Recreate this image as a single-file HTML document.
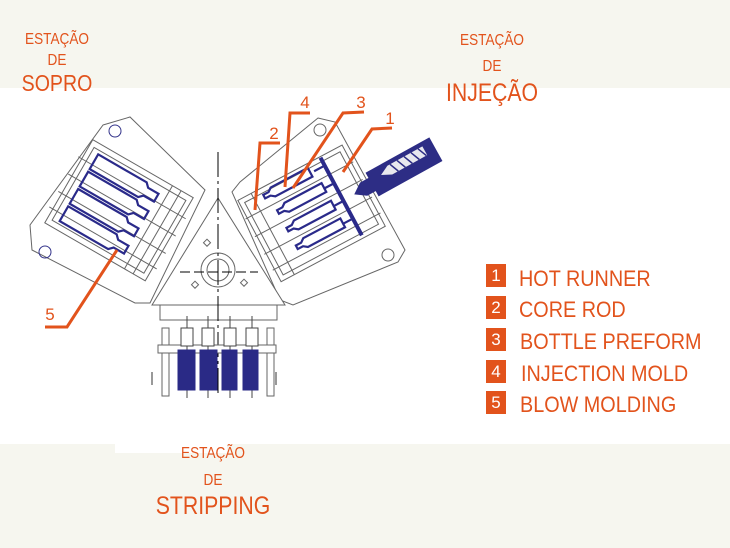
<!DOCTYPE html>
<html><head><meta charset="utf-8"><style>
html,body{margin:0;padding:0}
body{width:730px;height:548px;overflow:hidden;background:#f6f6ef;position:relative;font-family:"Liberation Sans",sans-serif}
.t{position:absolute;color:#e2531c;font-family:"Liberation Sans Narrow","Liberation Sans",sans-serif;text-align:center;transform:scaleX(0.85);transform-origin:center;white-space:nowrap}
.lg{position:absolute;left:486px;width:20px;height:23px;background:#e2531c;color:#fff;font-size:17px;line-height:23px;text-align:center}
.lt{position:absolute;left:519px;color:#e2531c;font-size:22px;line-height:24px;white-space:nowrap;transform:scaleX(0.9);transform-origin:left}
</style></head><body>
<div style="position:absolute;left:0;top:88px;width:730px;height:356px;background:#fff"></div>
<div style="position:absolute;left:115px;top:440px;width:112px;height:13px;background:#fff"></div>

<svg style="position:absolute;left:0;top:0" width="730" height="548">
<g fill="none" stroke="#666" stroke-width="1">
 <polygon points="103,125 130,117 205,190 150,303 135,303 32,250 30,225" fill="#fff"/>
 <circle cx="115" cy="131" r="6" stroke="#33338a"/>
 <circle cx="45" cy="252" r="6" stroke="#33338a"/>
 <g transform="translate(118,212) rotate(30)">
  <rect x="-58" y="-50" width="116" height="96" fill="#fff"/>
  <rect x="-53" y="-44" width="106" height="84"/>
  <line x1="-62" y1="-28" x2="62" y2="-28"/><line x1="-62" y1="-8" x2="62" y2="-8"/>
  <line x1="-62" y1="12" x2="62" y2="12"/><line x1="-62" y1="30" x2="62" y2="30"/>
  <line x1="34" y1="-50" x2="34" y2="46"/><line x1="44" y1="-50" x2="44" y2="46"/>
  <g stroke="#2a2a8a" stroke-width="2.2">
   <path d="M-46,-40 h56 l4,4 h12 v9 h-12 l-4,4 h-56 z"/>
   <path d="M-46,-20 h56 l4,4 h12 v9 h-12 l-4,4 h-56 z"/>
   <path d="M-46,0 h56 l4,4 h12 v9 h-12 l-4,4 h-56 z"/>
   <path d="M-46,20 h56 l4,4 h12 v9 h-12 l-4,4 h-56 z"/>
  </g>
 </g>
 <polygon points="318,118 335,122 405,250 398,262 293,305 280,300 232,192 240,182" fill="#fff"/>
 <circle cx="320" cy="130" r="6"/>
 <circle cx="388" cy="255" r="6"/>
 <g transform="translate(312,212) rotate(-28)">
  <rect x="-60" y="-45" width="118" height="92" fill="#fff"/>
  <rect x="-55" y="-40" width="108" height="82"/>
  <line x1="-62" y1="-25" x2="60" y2="-25"/><line x1="-62" y1="-5" x2="60" y2="-5"/>
  <line x1="-62" y1="15" x2="60" y2="15"/><line x1="-62" y1="33" x2="60" y2="33"/>
  <line x1="-45" y1="-45" x2="-45" y2="47"/>
  <g stroke="#2a2a8a" stroke-width="2.2">
   <path d="M-35,-38 h6 l4,-3 h42 v10 h-42 l-4,-3 h-6 z"/>
   <path d="M-30,-18 h6 l4,-3 h42 v10 h-42 l-4,-3 h-6 z"/>
   <path d="M-30,2 h6 l4,-3 h42 v10 h-42 l-4,-3 h-6 z"/>
   <path d="M-30,22 h6 l4,-3 h42 v10 h-42 l-4,-3 h-6 z"/>
   <line x1="21" y1="-35" x2="32" y2="-35"/><line x1="21" y1="-15" x2="32" y2="-15"/>
   <line x1="21" y1="5" x2="32" y2="5"/><line x1="21" y1="25" x2="32" y2="25"/>
   <line x1="33" y1="-44" x2="33" y2="44" stroke-width="4"/>
  </g>
 </g>
 <g transform="translate(355,194) rotate(-29)">
  <path d="M0,0 l10,-7 h10 v-6 h72 v26 h-72 v-6 h-10 z" fill="#2d2d85" stroke="#2d2d85"/>
  <path d="M32,-4 l10,-5 h40 v10 h-40 z" fill="#e8e8ee" stroke="none"/>
  <path d="M45,-9 l4,10 M53,-9 l4,10 M61,-9 l4,10 M69,-9 l4,10 M77,-9 l4,10" stroke="#2d2d85" stroke-width="1.5"/>
 </g>
 <polygon points="218,198 152,305 285,305" fill="#fff"/>
 <rect x="160" y="305" width="117" height="15" fill="#fff"/>
 <circle cx="218" cy="270" r="17"/><circle cx="218" cy="270" r="11"/>
 <line x1="180" y1="272" x2="258" y2="272" stroke="#000" stroke-dasharray="10,4"/>
 <line x1="218" y1="152" x2="218" y2="395" stroke="#000" stroke-dasharray="25,4,3,4"/>
 <rect x="205" y="240" width="5" height="5" transform="rotate(45 207 242)"/>
 <rect x="193" y="282" width="5" height="5" transform="rotate(45 195 284)"/>
 <rect x="242" y="280" width="5" height="5" transform="rotate(45 244 282)"/>
 <rect x="162" y="328" width="7" height="68" fill="#fff"/>
 <rect x="267" y="328" width="7" height="68" fill="#fff"/>
 <rect x="158" y="345" width="118" height="8" fill="#fff"/>
 <g stroke="#444">
  <line x1="187" y1="316" x2="187" y2="398"/><line x1="208" y1="316" x2="208" y2="398"/>
  <line x1="230" y1="316" x2="230" y2="398"/><line x1="252" y1="316" x2="252" y2="398"/>
  <rect x="181" y="328" width="12" height="18" fill="#fff"/><rect x="202" y="328" width="12" height="18" fill="#fff"/>
  <rect x="224" y="328" width="12" height="18" fill="#fff"/><rect x="246" y="328" width="12" height="18" fill="#fff"/>
 </g>
 <g fill="#2a2a86" stroke="#2a2a86">
  <path d="M178,350 h17 v40 h-17 z"/><path d="M200,350 h17 v40 h-17 z"/>
  <path d="M222,350 h15 v40 h-15 z"/><path d="M243,350 h15 v40 h-15 z"/>
 </g>
 <line x1="152" y1="372" x2="152" y2="385" stroke="#333"/>
 <line x1="276" y1="372" x2="276" y2="385" stroke="#333"/>
</g>
<g fill="none" stroke="#e2531c" stroke-width="3">
 <polyline points="392,128 372,129 343,172"/>
 <polyline points="364,112 343,113 293,188"/>
 <polyline points="310,113 290,113 285,187"/>
 <polyline points="280,143 260,143 255,210"/>
 <polyline points="45,327 67,327 117,250"/>
</g>
<g fill="#e2531c" font-family="Liberation Sans, sans-serif" font-size="17" text-anchor="middle">
 <text x="390" y="124">1</text><text x="361" y="108">3</text>
 <text x="305" y="108">4</text><text x="274" y="139">2</text>
 <text x="50" y="320">5</text>
</g>
</svg>

<div class="t" style="left:7px;width:100px;top:31px;font-size:16px">ESTAÇÃO</div>
<div class="t" style="left:7px;width:100px;top:52px;font-size:16px">DE</div>
<div class="t" style="left:7px;width:100px;top:70px;font-size:23px">SOPRO</div>
<div class="t" style="left:442px;width:100px;top:32px;font-size:16px">ESTAÇÃO</div>
<div class="t" style="left:442px;width:100px;top:58px;font-size:16px">DE</div>
<div class="t" style="left:432px;width:120px;top:79px;font-size:25px">INJEÇÃO</div>
<div class="t" style="left:163px;width:100px;top:445px;font-size:16px">ESTAÇÃO</div>
<div class="t" style="left:163px;width:100px;top:472px;font-size:16px">DE</div>
<div class="t" style="left:143px;width:140px;top:492px;font-size:25px">STRIPPING</div>

<div class="lg" style="top:264px">1</div><div class="lt" style="top:267px">HOT RUNNER</div>
<div class="lg" style="top:296px">2</div><div class="lt" style="top:298px">CORE ROD</div>
<div class="lg" style="top:328px">3</div><div class="lt" style="top:330px;left:520px">BOTTLE PREFORM</div>
<div class="lg" style="top:360px">4</div><div class="lt" style="top:362px;left:521px">INJECTION MOLD</div>
<div class="lg" style="top:391px">5</div><div class="lt" style="top:393px;left:520px">BLOW MOLDING</div>
</body></html>
